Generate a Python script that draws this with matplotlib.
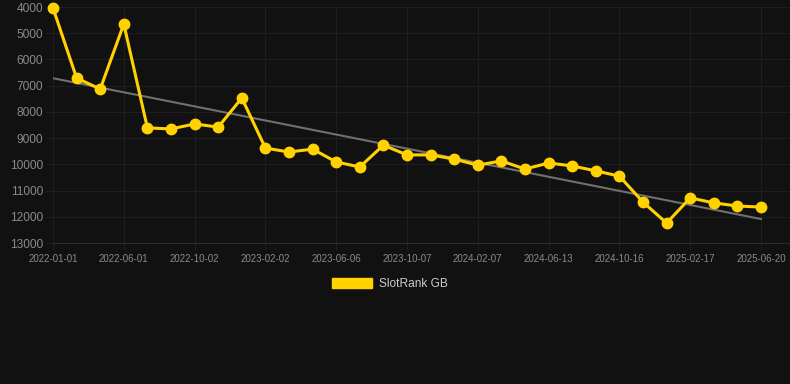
import numpy as np
import matplotlib
matplotlib.use('Agg')
import matplotlib.pyplot as plt
from matplotlib.patches import Patch

# data (rank, lower is better)
tick_labels = ['2022-01-01', '2022-06-01', '2022-10-02', '2023-02-02',
               '2023-06-06', '2023-10-07', '2024-02-07', '2024-06-13',
               '2024-10-16', '2025-02-17', '2025-06-20']
ranks = [4040, 6710, 7130, 4650, 8610, 8650, 8460, 8580, 7470, 9380,
         9530, 9420, 9910, 10100, 9270, 9640, 9640, 9800, 10030, 9870,
         10180, 9950, 10060, 10250, 10450, 11440, 12240, 11280, 11470,
         11590, 11630]
series_name = 'SlotRank GB'

BG = '#111111'
GRID = '#1e1e1e'
TXT = '#8a8a8a'
GOLD = '#ffd200'

W, H = 790, 384
fig = plt.figure(figsize=(W / 100, H / 100), dpi=100, facecolor=BG)
ax = fig.add_axes([53 / W, 1 - 243 / H, (W - 53) / W, (243 - 7) / H])
ax.set_facecolor(BG)

x = np.arange(len(ranks))
step = (len(ranks) - 1) / (len(tick_labels) - 1)

# trend line (least squares)
k, b = np.polyfit(x, ranks, 1)
ax.plot([x[0], x[-1]], [k * x[0] + b, k * x[-1] + b], color='#707070', lw=1.5, zorder=2)

ax.plot(x, ranks, color=GOLD, lw=2.2, marker='o', ms=7.5, mec=GOLD, mfc=GOLD,
        zorder=3, clip_on=False)

ax.set_xlim(0, x[-1] + 29 / 23.6)
ax.set_ylim(13000, 4000)
ax.set_yticks(np.arange(4000, 13001, 1000))
ax.set_xticks(np.arange(len(tick_labels)) * step)
ax.set_xticklabels(tick_labels)

ax.grid(True, color=GRID, lw=0.8)
ax.set_axisbelow(True)
for s in ['top', 'right', 'left']:
    ax.spines[s].set_visible(False)
ax.spines['bottom'].set_color('#2c2c2c')
ax.tick_params(axis='y', colors=GRID, labelcolor=TXT, labelsize=8.6, length=5, pad=2)
ax.tick_params(axis='x', colors=GRID, labelcolor=TXT, labelsize=7, length=5, pad=3)
for t in ax.get_xticklabels() + ax.get_yticklabels():
    t.set_fontfamily('Liberation Sans')

leg = fig.legend(handles=[Patch(facecolor=GOLD, edgecolor=GOLD, label=series_name)],
                 loc='center', bbox_to_anchor=(390 / W, 1 - 284 / H), frameon=False,
                 handlelength=3.4, handleheight=1.0, handletextpad=0.6,
                 prop={'family': 'Liberation Sans', 'size': 8.6})
for t in leg.get_texts():
    t.set_color('#cccccc')

fig.savefig('out.png', dpi=100, facecolor=BG)
